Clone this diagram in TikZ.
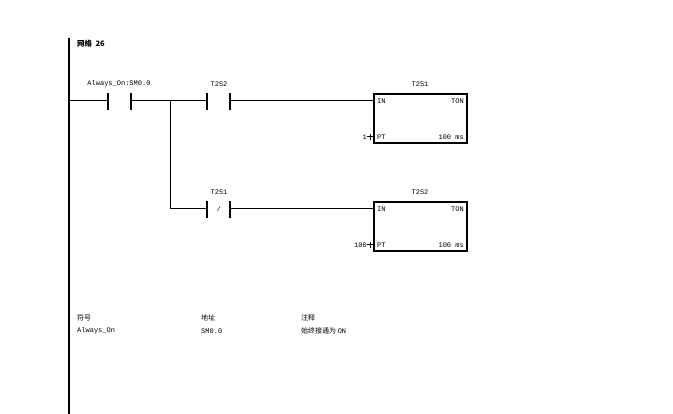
\documentclass[tikz,border=0pt]{standalone}
\usepackage{fontspec}
\setmonofont{Liberation Mono}
\newfontfamily\cjk{Noto Sans CJK SC}
\begin{document}
\begin{tikzpicture}[x=1pt,y=-1pt,
  txt/.style={font=\ttfamily\fontsize{7}{8}\selectfont,inner sep=0pt},
  ctxt/.style={font=\cjk\fontsize{7}{8}\selectfont,inner sep=0pt,anchor=west},
  wire/.style={line width=1pt},
  plate/.style={line width=2pt},
  boxst/.style={draw,line width=1.6pt,minimum width=93pt,minimum height=49pt,anchor=north west,inner sep=0pt}]
\useasboundingbox (0,0) rectangle (673,414);
\fill[white] (0,0) rectangle (673,414);
\draw[line width=2pt] (69,38) -- (69,414);
\node[ctxt,font=\cjk\bfseries\fontsize{7.5}{8}\selectfont] (hdr) at (77,44) {网络\ \ 26};
% rung 1
\coordinate (j) at (170,101);
\draw[wire] (69,101) -- (108,101) (131,101) -- (207,101) (230,101) -- (373,101);
\draw[plate] (108,93) -- (108,110) (131,93) -- (131,110);
\draw[plate] (207,93) -- (207,110) (230,93) -- (230,110);
\node[txt] (l1) at (119,84) {Always\_On:SM0.0};
\node[txt] (l2) at (219,84) {T252};
\node[boxst] (b1) at (373,93) {};
\node[txt] at (420,84) {T251};
\node[txt,anchor=west] at (377,101) {IN};
\node[txt,anchor=east] at (464,101) {TON};
\node[txt,anchor=west] at (377,137) {PT};
\node[txt,anchor=east] at (464,137) {100 ms};
\draw[wire] (367,137) -- (373,137);
\draw[wire] (370,134) -- (370,140);
\node[txt,anchor=east] at (367,137) {1};
% rung 2
\draw[wire] (j) -- (170,209) -- (207,209) (230,209) -- (373,209);
\draw[plate] (207,201) -- (207,218) (230,201) -- (230,218);
\node[txt] at (219,209) {/};
\node[txt] at (219,192) {T251};
\node[boxst] (b2) at (373,201) {};
\node[txt] at (420,192) {T252};
\node[txt,anchor=west] at (377,209) {IN};
\node[txt,anchor=east] at (464,209) {TON};
\node[txt,anchor=west] at (377,245) {PT};
\node[txt,anchor=east] at (464,245) {100 ms};
\draw[wire] (367,245) -- (373,245);
\draw[wire] (370,242) -- (370,248);
\node[txt,anchor=east] at (367,245) {100};
% table
\node[ctxt] at (77,318) {符号};
\node[ctxt] at (201,318) {地址};
\node[ctxt] at (301,318) {注释};
\node[txt,anchor=west] at (77,331) {Always\_On};
\node[txt,anchor=west] at (201,331) {SM0.0};
\node[ctxt] at (301,331) {始终接通为 \ttfamily ON};
\end{tikzpicture}
\end{document}
